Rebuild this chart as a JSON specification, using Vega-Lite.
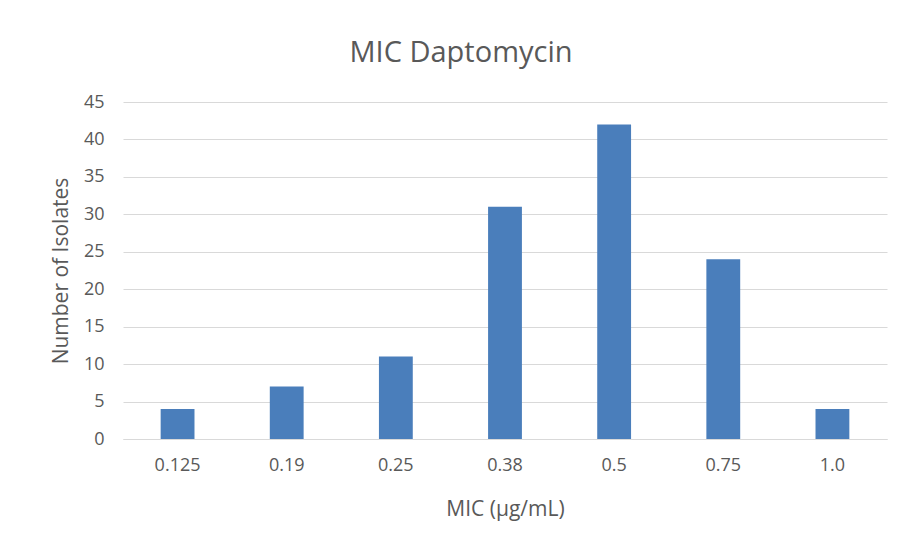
{
  "$schema": "https://vega.github.io/schema/vega-lite/v6.json",
  "autosize": "none",
  "width": 764,
  "height": 337,
  "padding": {"left": 123, "top": 102, "right": 15, "bottom": 107},
  "background": "white",
  "title": {
    "text": "MIC Daptomycin",
    "fontSize": 29,
    "font": "Open Sans",
    "fontWeight": "normal",
    "color": "#595959",
    "anchor": "middle",
    "dx": -44,
    "offset": 25
  },
  "data": {
    "values": [
      {"mic": "0.125", "count": 4},
      {"mic": "0.19", "count": 7},
      {"mic": "0.25", "count": 11},
      {"mic": "0.38", "count": 31},
      {"mic": "0.5", "count": 42},
      {"mic": "0.75", "count": 24},
      {"mic": "1.0", "count": 4}
    ]
  },
  "mark": {"type": "bar", "color": "#4a7ebb"},
  "encoding": {
    "x": {
      "field": "mic",
      "type": "nominal",
      "sort": null,
      "scale": {"paddingInner": 0.69, "paddingOuter": 0.345},
      "axis": {
        "title": "MIC (µg/mL)",
        "labelAngle": 0,
        "labelFont": "Open Sans",
        "labelFontSize": 18,
        "labelColor": "#595959",
        "labelPadding": 17,
        "ticks": false,
        "domainColor": "#d9d9d9",
        "titleFont": "Open Sans",
        "titleFontSize": 21,
        "titleFontWeight": "normal",
        "titleColor": "#595959",
        "titlePadding": 24
      }
    },
    "y": {
      "field": "count",
      "type": "quantitative",
      "scale": {"domain": [0, 45], "nice": false},
      "axis": {
        "title": "Number of Isolates",
        "values": [0, 5, 10, 15, 20, 25, 30, 35, 40, 45],
        "labelFont": "Open Sans",
        "labelFontSize": 18,
        "labelColor": "#595959",
        "labelPadding": 19,
        "ticks": false,
        "domain": false,
        "gridColor": "#d9d9d9",
        "titleFont": "Open Sans",
        "titleFontSize": 21,
        "titleFontWeight": "normal",
        "titleColor": "#595959",
        "titlePadding": 12
      }
    }
  },
  "config": {"view": {"stroke": null}}
}
